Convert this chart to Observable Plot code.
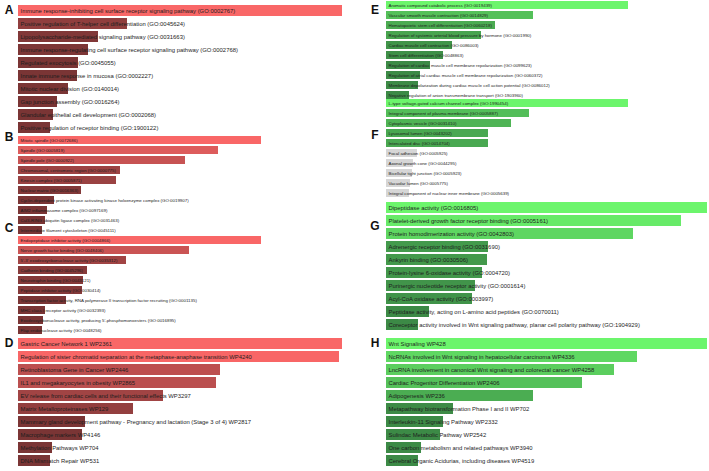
<!DOCTYPE html>
<html>
<head>
<meta charset="utf-8">
<script src="https://cdn.jsdelivr.net/npm/d3@7"></script>
<script src="https://cdn.jsdelivr.net/npm/@observablehq/plot@0.6"></script>
<style>
  html, body { margin: 0; padding: 0; background: #fff; }
  #root { position: relative; width: 709px; height: 471px; overflow: hidden; }
  #root > svg, #root > .panel { position: absolute; }
  .letter { position: absolute; font: bold 12px "Liberation Sans", Arial, sans-serif; color: #111; line-height: 12px; transform: translate(-50%, -50%); }
</style>
</head>
<body>
<div id="root"></div>
<script>
// ---------- DATA ----------
const aLabels = [
  "Immune response-inhibiting cell surface receptor signaling pathway (GO:0002767)",
  "Positive regulation of T-helper cell differentiation (GO:0045624)",
  "Lipopolysaccharide-mediated signaling pathway (GO:0031663)",
  "Immune response-regulating cell surface receptor signaling pathway (GO:0002768)",
  "Regulated exocytosis (GO:0045055)",
  "Innate immune response in mucosa (GO:0002227)",
  "Mitotic nuclear division (GO:0140014)",
  "Gap junction assembly (GO:0016264)",
  "Glandular epithelial cell development (GO:0002068)",
  "Positive regulation of receptor binding (GO:1900122)"
];
const aValues = [324, 109, 80, 70, 60, 59, 50, 39, 35, 32];

const bLabels = [
  "Mitotic spindle (GO:0072686)",
  "Spindle (GO:0005819)",
  "Spindle pole (GO:0000922)",
  "Chromosomal, centromeric region (GO:0000775)",
  "Kinesin complex (GO:0005871)",
  "Nuclear matrix (GO:0016363)",
  "Cyclin-dependent protein kinase activating kinase holoenzyme complex (GO:0019907)",
  "AIM2 inflammasome complex (GO:0097169)",
  "Cul3-RING ubiquitin ligase complex (GO:0031463)",
  "Intermediate filament cytoskeleton (GO:0045111)"
];
const bValues = [243, 200, 167, 102, 98, 63, 36, 29, 27, 24];

const cLabels = [
  "Endopeptidase inhibitor activity (GO:0004866)",
  "Nerve growth factor binding (GO:0048406)",
  "5'-3' exodeoxyribonuclease activity (GO:0035312)",
  "Cadherin binding (GO:0045296)",
  "Neurotrophin binding (GO:0043121)",
  "Peptidase inhibitor activity (GO:0030414)",
  "Transcription factor activity, RNA polymerase II transcription factor recruiting (GO:0001135)",
  "MHC class I receptor activity (GO:0032393)",
  "Exodeoxyribonuclease activity, producing 5'-phosphomonoesters (GO:0016895)",
  "Flap endonuclease activity (GO:0048256)"
];
const cValues = [243, 171, 108, 69, 65, 64, 48, 27, 25, 24];

const dLabels = [
  "Gastric Cancer Network 1 WP2361",
  "Regulation of sister chromatid separation at the metaphase-anaphase transition WP4240",
  "Retinoblastoma Gene in Cancer WP2446",
  "IL1 and megakaryocytes in obesity WP2865",
  "EV release from cardiac cells and their functional effects WP3297",
  "Matrix Metalloproteinases WP129",
  "Mammary gland development pathway - Pregnancy and lactation (Stage 3 of 4) WP2817",
  "Macrophage markers WP4146",
  "Methylation Pathways WP704",
  "DNA Mismatch Repair WP531"
];
const dValues = [324, 321, 202, 198, 145, 115, 67, 64, 34, 32];

const eLabels = [
  "Aromatic compound catabolic process (GO:0019439)",
  "Vascular smooth muscle contraction (GO:0014829)",
  "Hematopoietic stem cell differentiation (GO:0060218)",
  "Regulation of systemic arterial blood pressure by hormone (GO:0001990)",
  "Cardiac muscle cell contraction (GO:0086003)",
  "Stem cell differentiation (GO:0048863)",
  "Regulation of cardiac muscle cell membrane repolarization (GO:0099623)",
  "Regulation of atrial cardiac muscle cell membrane repolarization (GO:0060372)",
  "Membrane depolarization during cardiac muscle cell action potential (GO:0086012)",
  "Negative regulation of anion transmembrane transport (GO:1903960)"
];
const eValues = [242, 147, 109, 95, 66, 57, 44, 34, 32, 23];

const fLabels = [
  "L-type voltage-gated calcium channel complex (GO:1990454)",
  "Integral component of plasma membrane (GO:0005887)",
  "Cytoplasmic vesicle (GO:0031410)",
  "Lysosomal lumen (GO:0043202)",
  "Intercalated disc (GO:0014704)",
  "Focal adhesion (GO:0005925)",
  "Axonal growth cone (GO:0044295)",
  "Bicellular tight junction (GO:0005923)",
  "Vacuolar lumen (GO:0005775)",
  "Integral component of nuclear inner membrane (GO:0005639)"
];
const fValues = [242, 143, 125, 102, 102, 31, 27, 26, 24, 23];
const fSignificant = [true, true, true, true, true, false, false, false, false, false];

const gLabels = [
  "Dipeptidase activity (GO:0016805)",
  "Platelet-derived growth factor receptor binding (GO:0005161)",
  "Protein homodimerization activity (GO:0042803)",
  "Adrenergic receptor binding (GO:0031690)",
  "Ankyrin binding (GO:0030506)",
  "Protein-lysine 6-oxidase activity (GO:0004720)",
  "Purinergic nucleotide receptor activity (GO:0001614)",
  "Acyl-CoA oxidase activity (GO:0003997)",
  "Peptidase activity, acting on L-amino acid peptides (GO:0070011)",
  "Coreceptor activity involved in Wnt signaling pathway, planar cell polarity pathway (GO:1904929)"
];
const gValues = [321, 295, 247, 102, 101, 96, 89, 86, 43, 32];

const hLabels = [
  "Wnt Signaling WP428",
  "NcRNAs involved in Wnt signaling in hepatocellular carcinoma WP4336",
  "LncRNA involvement in canonical Wnt signaling and colorectal cancer WP4258",
  "Cardiac Progenitor Differentiation WP2406",
  "Adipogenesis WP236",
  "Metapathway biotransformation Phase I and II WP702",
  "Interleukin-11 Signaling Pathway WP2332",
  "Sulindac Metabolic Pathway WP2542",
  "One carbon metabolism and related pathways WP3940",
  "Cerebral Organic Acidurias, including diseases WP4519"
];
const hValues = [321, 251, 228, 196, 147, 67, 57, 54, 35, 32];

const panelLetters = ["A", "B", "C", "D", "E", "F", "G", "H"];

// ---------- DRAWING ----------
const root = document.getElementById("root");
const RED = ["#7a3535", "#f96767"];
const GREEN = ["#3c8a46", "#6cf56c"];
const GRAY = "#d6d6d6";

function panel({labels, values, sig, left, top, height, xMax, fontSize, pad, palette, column}) {
  const max = d3.max(values);
  const data = labels.map((l, i) => ({label: l, value: values[i], ratio: values[i] / max, sig: sig ? sig[i] : true}));
  const width = column === "left" ? 350 : 354;
  const marginLeft = column === "left" ? 18 : 31;
  const marginRight = column === "left" ? 8 : 2;
  const chart = Plot.plot({
    width, height,
    marginLeft, marginRight, marginTop: 0, marginBottom: 0,
    style: {background: "transparent", fontFamily: "'Liberation Sans', Arial, sans-serif", overflow: "visible"},
    x: {domain: [0, xMax], axis: null},
    y: {domain: labels, axis: null, paddingInner: pad, paddingOuter: pad / 2},
    color: {type: "linear", domain: [0.2, 1], range: palette, clamp: true, interpolate: "rgb"},
    marks: [
      Plot.barX(data.filter(d => d.sig), {x: "value", y: "label", fill: "ratio", inset: 0}),
      Plot.barX(data.filter(d => !d.sig), {x: "value", y: "label", fill: GRAY, inset: 0}),
      Plot.text(data, {x: 0, y: "label", text: "label", textAnchor: "start", dx: 2, dy: 0.3,
                       fontSize, fill: "#1e1e1e"})
    ]
  });
  chart.classList.add("panel");
  chart.style.left = left + "px";
  chart.style.top = top + "px";
  root.appendChild(chart);
}

panel({labels: aLabels, values: aValues, left: 0, top: 0.5, height: 135, xMax: 324, fontSize: 5.9, pad: 0.16, palette: RED, column: "left"});
panel({labels: bLabels, values: bValues, left: 0, top: 135, height: 101, xMax: 324, fontSize: 4.4, pad: 0.18, palette: RED, column: "left"});
panel({labels: cLabels, values: cValues, left: 0, top: 235, height: 100, xMax: 324, fontSize: 4.4, pad: 0.18, palette: RED, column: "left"});
panel({labels: dLabels, values: dValues, left: 0, top: 335.3, height: 134.4, xMax: 324, fontSize: 5.9, pad: 0.16, palette: RED, column: "left"});
panel({labels: eLabels, values: eValues, left: 355, top: 0, height: 100, xMax: 321, fontSize: 4.4, pad: 0.18, palette: GREEN, column: "right"});
panel({labels: fLabels, values: fValues, sig: fSignificant, left: 355, top: 98, height: 101, xMax: 321, fontSize: 4.4, pad: 0.18, palette: GREEN, column: "right"});
panel({labels: gLabels, values: gValues, left: 355, top: 199.3, height: 134.4, xMax: 321, fontSize: 5.9, pad: 0.16, palette: GREEN, column: "right"});
panel({labels: hLabels, values: hValues, left: 355, top: 335.3, height: 134.4, xMax: 321, fontSize: 5.9, pad: 0.16, palette: GREEN, column: "right"});

const letterPos = [[9, 10], [9, 137], [9, 228], [9, 343], [375, 10], [375, 135], [375, 226], [375, 343]];
panelLetters.forEach((t, i) => {
  const d = document.createElement("div");
  d.className = "letter";
  d.textContent = t;
  d.style.left = letterPos[i][0] + "px";
  d.style.top = letterPos[i][1] + "px";
  root.appendChild(d);
});
</script>
</body>
</html>
